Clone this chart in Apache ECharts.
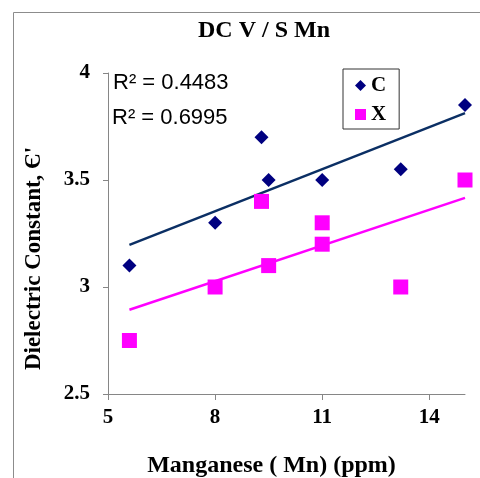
<!DOCTYPE html>
<html>
<head>
<meta charset="utf-8">
<script src="https://cdn.jsdelivr.net/npm/echarts@6/dist/echarts.min.js"></script>
<style>
  html, body { margin: 0; padding: 0; background: #fff; }
  #chart { width: 480px; height: 478px; }
</style>
</head>
<body>
<div id="chart"></div>
<script>
// Manganese content (ppm) and dielectric constant for the two sample sets
const mnC = [5.6, 8, 9.3, 9.5, 11, 13.2, 15];
const dielectricC = [3.1, 3.3, 3.7, 3.5, 3.5, 3.55, 3.85];
const mnX = [5.6, 8, 9.3, 9.5, 11, 11, 13.2, 15];
const dielectricX = [2.75, 3.0, 3.4, 3.1, 3.3, 3.2, 3.0, 3.5];

const xTickValues = [5, 8, 11, 14];
const yTickValues = [2.5, 3, 3.5, 4];
const rSquaredLabels = ['R\u00b2 = 0.4483', 'R\u00b2 = 0.6995'];
const seriesNames = ['C', 'X'];

const SERIF = '"Liberation Serif", "Times New Roman", serif';
const SANS = '"Liberation Sans", Arial, sans-serif';
const AXIS_GRAY = '#868686';

function pairs(xs, ys) {
  return xs.map((x, i) => [x, ys[i]]);
}

// Least-squares linear trend, drawn across the data's x range
function linearTrend(xs, ys) {
  const n = xs.length;
  const mx = xs.reduce((a, b) => a + b, 0) / n;
  const my = ys.reduce((a, b) => a + b, 0) / n;
  let sxy = 0, sxx = 0;
  for (let i = 0; i < n; i++) {
    sxy += (xs[i] - mx) * (ys[i] - my);
    sxx += (xs[i] - mx) * (xs[i] - mx);
  }
  const slope = sxy / sxx;
  const x0 = Math.min(...xs), x1 = Math.max(...xs);
  return [[x0, my + slope * (x0 - mx)], [x1, my + slope * (x1 - mx)]];
}

const chart = echarts.init(document.getElementById('chart'), null, { renderer: 'canvas' });

chart.setOption({
  animation: false,
  backgroundColor: '#fff',
  grid: { left: 108, right: 15, top: 73, bottom: 84 },
  xAxis: {
    type: 'value',
    min: 5,
    max: 15,
    splitLine: { show: false },
    axisLine: { show: true, onZero: false, lineStyle: { color: AXIS_GRAY, width: 1 } },
    axisTick: { show: true, customValues: xTickValues, length: 6, lineStyle: { color: AXIS_GRAY } },
    axisLabel: {
      customValues: xTickValues,
      margin: 13,
      color: '#000',
      fontFamily: SERIF,
      fontWeight: 'bold',
      fontSize: 21
    }
  },
  yAxis: {
    type: 'value',
    min: yTickValues[0],
    max: yTickValues[yTickValues.length - 1],
    interval: 0.5,
    splitLine: { show: false },
    axisLine: { show: true, onZero: false, lineStyle: { color: AXIS_GRAY, width: 1 } },
    axisTick: { show: true, length: 5, lineStyle: { color: AXIS_GRAY } },
    axisLabel: {
      margin: 18,
      color: '#000',
      fontFamily: SERIF,
      fontWeight: 'bold',
      fontSize: 21
    }
  },
  legend: {
    data: [
      { name: seriesNames[0], icon: 'diamond' },
      { name: seriesNames[1], icon: 'rect' }
    ],
    orient: 'vertical',
    left: 343,
    top: 69,
    padding: [6, 13, 4, 12],
    itemGap: 8,
    itemWidth: 11,
    itemHeight: 11,
    borderColor: '#333',
    borderWidth: 1,
    backgroundColor: '#fff',
    textStyle: {
      color: '#000',
      fontFamily: SERIF,
      fontWeight: 'bold',
      fontSize: 21,
      lineHeight: 21
    }
  },
  series: [
    {
      name: 'trend C',
      type: 'line',
      data: linearTrend(mnC, dielectricC),
      showSymbol: false,
      symbol: 'none',
      silent: true,
      lineStyle: { color: '#0B2F64', width: 2.5 },
      z: 2
    },
    {
      name: 'trend X',
      type: 'line',
      data: linearTrend(mnX, dielectricX),
      showSymbol: false,
      symbol: 'none',
      silent: true,
      lineStyle: { color: '#FF00FF', width: 2.5 },
      z: 2
    },
    {
      name: seriesNames[0],
      type: 'scatter',
      symbol: 'diamond',
      symbolSize: 14,
      itemStyle: { color: '#000080', opacity: 1 },
      data: pairs(mnC, dielectricC),
      z: 3
    },
    {
      name: seriesNames[1],
      type: 'scatter',
      symbol: 'rect',
      symbolSize: 15,
      itemStyle: { color: '#FF00FF', opacity: 1 },
      data: pairs(mnX, dielectricX),
      z: 3
    }
  ],
  graphic: [
    {
      type: 'polyline',
      shape: { points: [[13.5, 478], [13.5, 12.5], [480, 12.5]] },
      style: { stroke: '#8c8c8c', lineWidth: 1, fill: null },
      silent: true
    },
    {
      type: 'text',
      x: 264, y: 30.5,
      style: {
        text: 'DC V / S Mn',
        font: 'bold 24px ' + SERIF,
        fill: '#000',
        textAlign: 'center',
        textVerticalAlign: 'middle'
      }
    },
    {
      type: 'text',
      x: 271.5, y: 465.5,
      style: {
        text: 'Manganese ( Mn) (ppm)',
        font: 'bold 24px ' + SERIF,
        fill: '#000',
        textAlign: 'center',
        textVerticalAlign: 'middle'
      }
    },
    {
      type: 'text',
      x: 34, y: 258.5,
      rotation: Math.PI / 2,
      style: {
        text: 'Dielectric Constant, \u0404\'',
        font: 'bold 23px ' + SERIF,
        fill: '#000',
        textAlign: 'center',
        textVerticalAlign: 'middle'
      }
    },
    {
      type: 'text',
      x: 113, y: 83,
      style: {
        text: rSquaredLabels[0],
        font: '22px ' + SANS,
        fill: '#000',
        textAlign: 'left',
        textVerticalAlign: 'middle'
      }
    },
    {
      type: 'text',
      x: 112, y: 117.5,
      style: {
        text: rSquaredLabels[1],
        font: '22px ' + SANS,
        fill: '#000',
        textAlign: 'left',
        textVerticalAlign: 'middle'
      }
    }
  ]
});
</script>
</body>
</html>
